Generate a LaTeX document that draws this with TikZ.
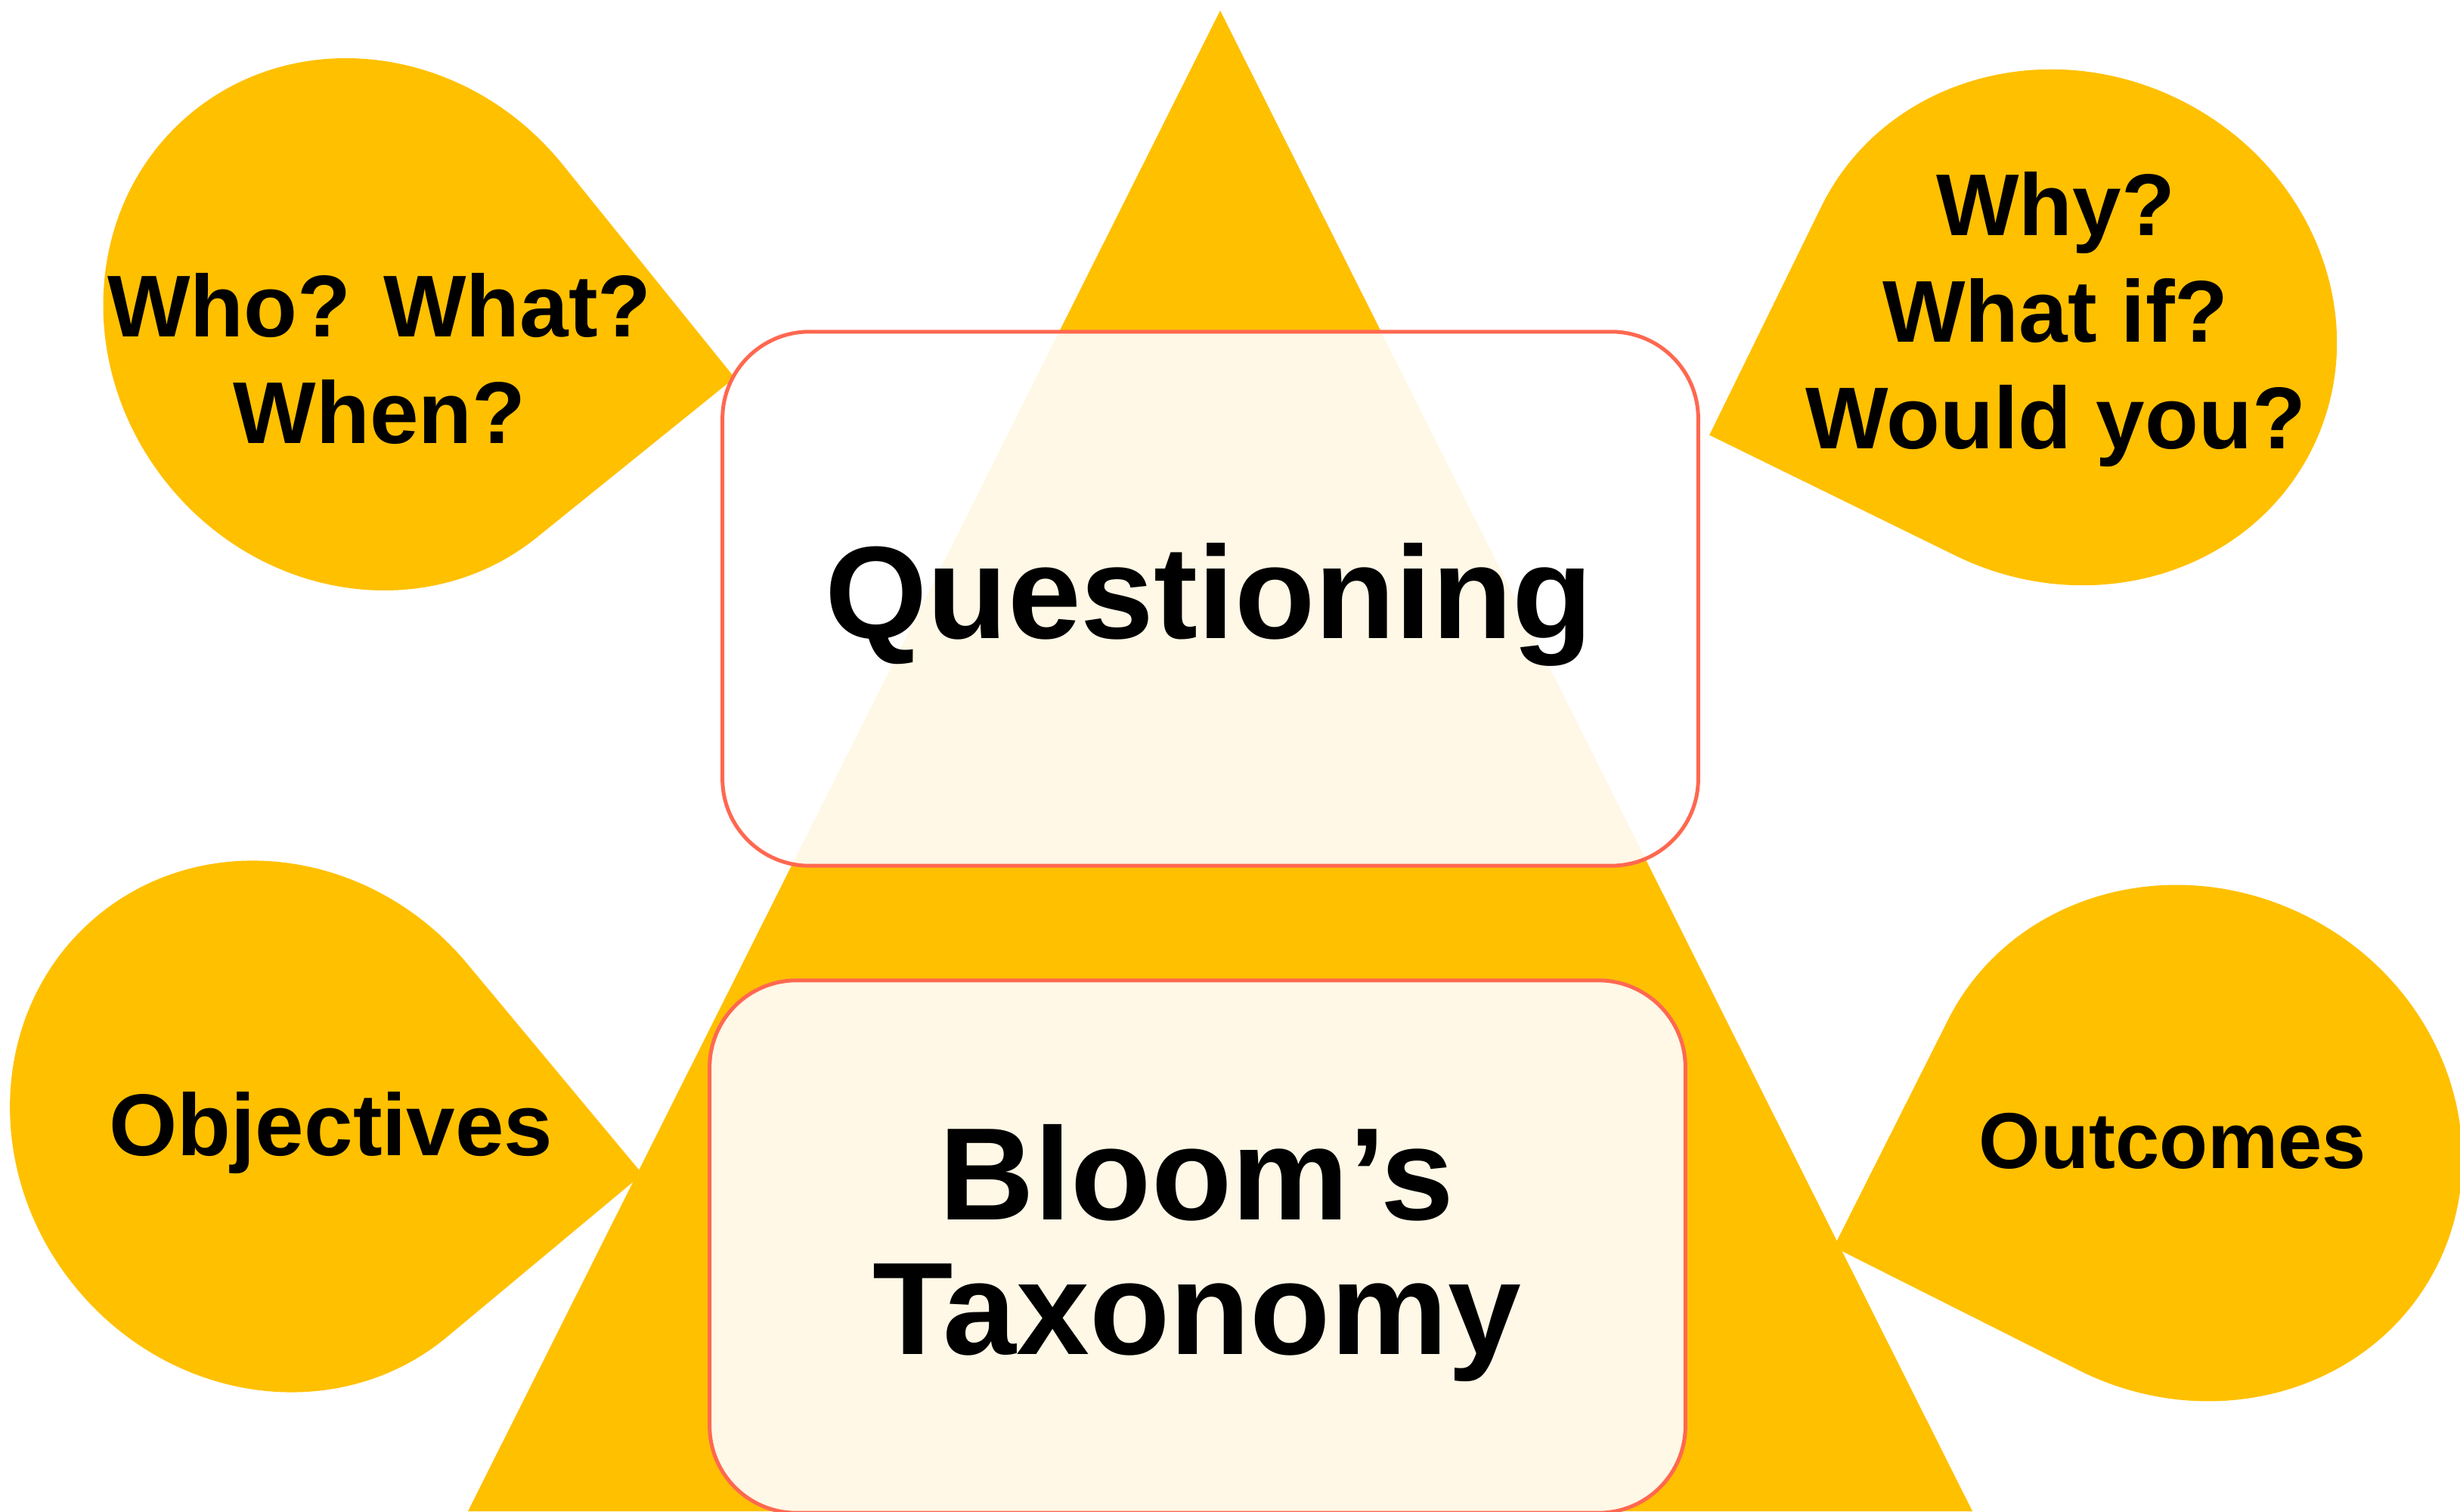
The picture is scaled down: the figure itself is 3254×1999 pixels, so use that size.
\documentclass[tikz,border=0pt]{standalone}
\usepackage{fontspec}
\setmainfont{Liberation Sans}
\definecolor{gold}{HTML}{FFC000}
\definecolor{edge}{RGB}{255,104,80}
\begin{document}
\begin{tikzpicture}[x=0.01cm, y=0.01cm,
  % teardrop: ellipse plus one square quadrant, tip in the local upper right
  drop/.pic={\fill[gold] (362,336) -- (0,336)
      arc[start angle=90, end angle=360, x radius=362, y radius=336] -- cycle;},
  card/.style={draw=edge, line width=0.05cm, fill=white, fill opacity=0.9,
      draw opacity=1, rounded corners=1.15cm, minimum width=12.9cm, inner sep=0pt},
  big/.style={font=\bfseries\fontsize{49.5}{50.6}\selectfont, anchor=base,
      align=center, inner sep=0pt},
  small/.style={font=\bfseries\fontsize{33}{40.1}\selectfont, anchor=base,
      align=center, inner sep=0pt}
]
\useasboundingbox (0,0) rectangle (3254,1999);
\clip (0,0) rectangle (3254,1999);

% pyramid
\fill[gold] (1614,1985) -- (2609,0) -- (619,0) -- cycle;

% speech drops
\pic[rotate=-51.1] at (483,1570) {drop};
\pic[rotate=-50.2] at (360,509) {drop};
\pic[rotate=153.9] at (2734,1566) {drop};
\pic[rotate=153.3] at (2900,487) {drop};

% cards
\node[card, minimum height=7.06cm] (qbox) at (1601,1207) {};
\node[card, minimum height=7.04cm] (bbox) at (1584,350) {};

% labels (multi-line labels sit on the baseline of their last line)
\node[big] (qtext) at (1599,1154) {Questioning};
\node[big] (btext) at (1583,208) {Bloom’s\\Taxonomy};
\node[small] (who) at (502,1412) {Who? What?\\When?};
\node[small] (why) at (2719,1405) {Why?\\What if?\\Would you?};
\node[small] (obj) at (438,471) {Objectives};
\node[small, font=\bfseries\fontsize{29.8}{36}\selectfont] (out) at (2874,454) {Outcomes};
\end{tikzpicture}
\end{document}
